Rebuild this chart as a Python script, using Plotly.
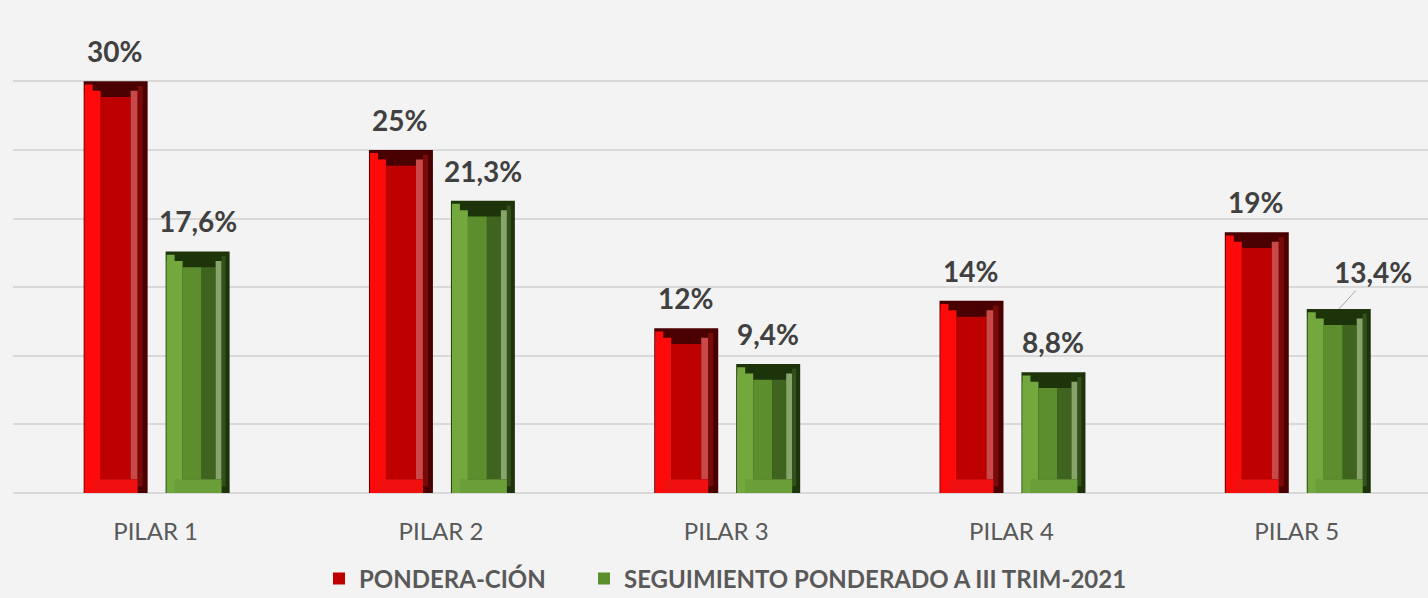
import plotly.graph_objects as go

categories = ["PILAR 1", "PILAR 2", "PILAR 3", "PILAR 4", "PILAR 5"]
ponderacion = [30, 25, 12, 14, 19]
seguimiento = [17.6, 21.3, 9.4, 8.8, 13.4]
series_names = ["PONDERA-CIÓN", "SEGUIMIENTO PONDERADO A III TRIM-2021"]

PX = 285.4          # pixels per category (for converting layer geometry)
TOP_BEVEL = 1.15    # data units (visual bevel depth)
BOT_BEVEL = 1.0

def fmt(v):
    return f"{v:g}".replace(".", ",") + "%"

fig = go.Figure()

def add_layer(vals, left_px, x0, x1, color, top_cut=0.0, base=0.0, name=None,
              show=False, legend="legend"):
    ys = [max(v - top_cut - base, 0) for v in vals]
    fig.add_trace(go.Bar(
        x=categories, y=ys, base=[base] * len(vals),
        offset=(left_px + x0) / PX, width=(x1 - x0) / PX,
        marker=dict(color=color, line=dict(width=0)),
        name=name if name else "", showlegend=show, legend=legend,
        hoverinfo="skip",
    ))

def add_bottom(vals, left_px, x0, x1, color):
    fig.add_trace(go.Bar(
        x=categories, y=[min(BOT_BEVEL, v) for v in vals], base=[0] * len(vals),
        offset=(left_px + x0) / PX, width=(x1 - x0) / PX,
        marker=dict(color=color, line=dict(width=0)), showlegend=False, hoverinfo="skip"))

# Red bars (PONDERA-CIÓN)
rl = -72
add_layer(ponderacion, rl, 0, 64, "#4a0000")
add_layer(ponderacion, rl, 1, 9, "#ff0a0a", top_cut=TOP_BEVEL * 0.2)
add_layer(ponderacion, rl, 1, 17, "#ff0a0a", top_cut=TOP_BEVEL * 0.6)
add_layer(ponderacion, rl, 17, 47, "#bf0000", top_cut=TOP_BEVEL, base=BOT_BEVEL,
          name="<b>" + series_names[0] + "</b>", show=True, legend="legend")
add_layer(ponderacion, rl, 47, 54, "#c94848", top_cut=TOP_BEVEL * 0.6, base=BOT_BEVEL)
add_layer(ponderacion, rl, 54, 59, "#7a0a0a", top_cut=TOP_BEVEL * 0.3, base=BOT_BEVEL * 0.5)
add_bottom(ponderacion, rl, 9, 54, "#f01010")

# Green bars (SEGUIMIENTO)
gl = 10
add_layer(seguimiento, gl, 0, 64, "#1d340b")
add_layer(seguimiento, gl, 1, 9, "#72a83e", top_cut=TOP_BEVEL * 0.2)
add_layer(seguimiento, gl, 1, 17, "#72a83e", top_cut=TOP_BEVEL * 0.6)
add_layer(seguimiento, gl, 17, 36, "#5c8e2e", top_cut=TOP_BEVEL, base=BOT_BEVEL,
          name="<b>" + series_names[1] + "</b>", show=True, legend="legend2")
add_layer(seguimiento, gl, 36, 50, "#3f6420", top_cut=TOP_BEVEL, base=BOT_BEVEL)
add_layer(seguimiento, gl, 50, 56, "#87a56a", top_cut=TOP_BEVEL * 0.6, base=BOT_BEVEL)
add_layer(seguimiento, gl, 56, 60, "#34511c", top_cut=TOP_BEVEL * 0.3, base=BOT_BEVEL * 0.5)
add_bottom(seguimiento, gl, 9, 56, "#6a9e38")

# Value labels
label_font = dict(family="Lato", size=28, color="#404040")
for i, c in enumerate(categories):
    fig.add_annotation(x=c, y=ponderacion[i], text="<b>" + fmt(ponderacion[i]) + "</b>",
                       showarrow=False, xshift=-41, yshift=30, yanchor="middle",
                       font=label_font)
    if i == len(categories) - 1:
        fig.add_annotation(x=c, y=seguimiento[i], text="<b>" + fmt(seguimiento[i]) + "</b>",
                           showarrow=True, arrowhead=0, arrowwidth=1, arrowcolor="#a6a6a6",
                           ax=34, ay=-37, xshift=42, font=label_font, standoff=0)
    else:
        fig.add_annotation(x=c, y=seguimiento[i], text="<b>" + fmt(seguimiento[i]) + "</b>",
                           showarrow=False, xshift=42, yshift=30, yanchor="middle",
                           font=label_font)

legend_common = dict(orientation="h", yref="container", y=0.032, yanchor="middle",
                     xanchor="left", font=dict(family="Lato", size=24, color="#595959"),
                     bgcolor="rgba(0,0,0,0)", itemclick=False, itemdoubleclick=False)

fig.update_layout(
    width=1428, height=598,
    barmode="overlay",
    paper_bgcolor="#f3f3f3", plot_bgcolor="#f3f3f3",
    margin=dict(l=13, r=0, t=12, b=105),
    xaxis=dict(range=[-0.5, 4.46], showgrid=False, showline=False, ticks="",
               tickfont=dict(family="Lato", size=24, color="#595959"),
               ticklabelstandoff=22, fixedrange=True),
    yaxis=dict(range=[0, 35.05], dtick=5, showticklabels=False, showgrid=True,
               gridcolor="#d9d9d9", gridwidth=1.5, zeroline=True, zerolinecolor="#d9d9d9",
               zerolinewidth=1.5, fixedrange=True),
    legend=dict(x=(319 - 13) / 1415, **legend_common),
    legend2=dict(x=(584 - 13) / 1415, **legend_common),
    showlegend=True,
)

fig.write_html(
    "out.html",
    config={"displayModeBar": False},
    post_script="document.body.style.margin='0';document.body.style.background='#f3f3f3';"
                "document.body.style.overflow='hidden';",
)
